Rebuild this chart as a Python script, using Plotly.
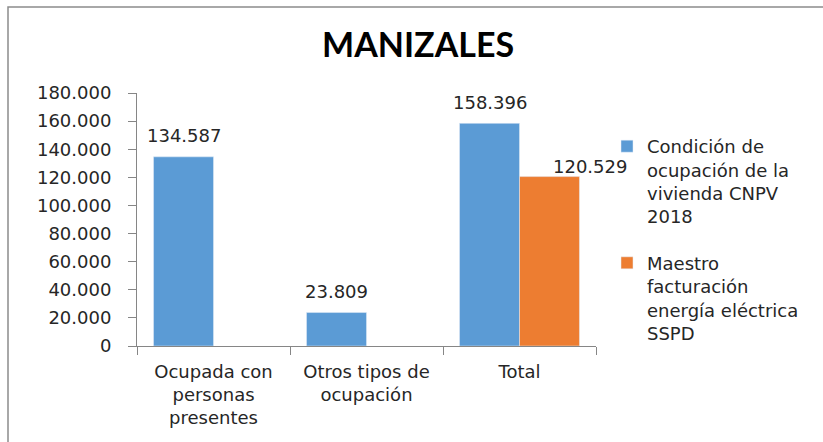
import plotly.graph_objects as go

categories = ["Ocupada con<br>personas<br>presentes", "Otros tipos de<br>ocupación", "Total"]
censo_vals = [134587, 23809, 158396]
ssp_vals = [None, None, 120529]
series_names = ["Condición de<br>ocupación de la<br>vivienda CNPV<br>2018",
                "Maestro<br>facturación<br>energía eléctrica<br>SSPD"]
title_text = "MANIZALES"
y_ticks = [0, 20000, 40000, 60000, 80000, 100000, 120000, 140000, 160000, 180000]

W, H = 823, 442
ML, MR, MT, MB = 137, 227, 93, 96
PW = W - ML - MR
PH = H - MT - MB
BARGAP = 0.216
bar_px = PW / 3 * (1 - BARGAP) / 2

BLUE = "#5B9BD5"
ORANGE = "#ED7D31"
TXT = "#262626"
FONT = "DejaVu Sans"


def fmt(v):
    return f"{v:,}".replace(",", ".")


fig = go.Figure()
fig.add_trace(go.Bar(x=categories, y=censo_vals, name=series_names[0],
                     marker=dict(color=BLUE), legendgroup="a"))
fig.add_trace(go.Bar(x=categories, y=ssp_vals, name=series_names[1],
                     marker=dict(color=ORANGE), legendgroup="b"))

annotations = []
for cat, v in zip(categories, censo_vals):
    if v is not None:
        annotations.append(dict(x=cat, y=v, text=fmt(v), showarrow=False,
                                xshift=-bar_px / 2, yshift=21,
                                font=dict(family=FONT, size=18, color=TXT)))
for cat, v in zip(categories, ssp_vals):
    if v is not None:
        annotations.append(dict(x=cat, y=v, text=fmt(v), showarrow=False,
                                xshift=bar_px / 2 + 41, yshift=10,
                                font=dict(family=FONT, size=18, color=TXT)))

# outer frame (left and top edges visible)
x0 = (8 - ML) / PW
x1 = (W + 20 - ML) / PW
y1 = (H - 7 - MB) / PH
y0 = (-20 - MB) / PH

fig.update_layout(
    width=W, height=H,
    margin=dict(l=ML, r=MR, t=MT, b=MB, autoexpand=False),
    paper_bgcolor="white", plot_bgcolor="white",
    separators=",.",
    barmode="group", bargap=BARGAP, bargroupgap=0,
    title=dict(text=f"<b>{title_text}</b>", x=0.508, xanchor="center",
               y=1 - 45 / H, yanchor="middle", yref="container", xref="container",
               font=dict(family="Lato", size=34, color="black")),
    font=dict(family=FONT, size=18, color=TXT),
    showlegend=True,
    legend=dict(xref="container", yref="container", x=607 / W, y=1 - 128 / H,
                xanchor="left", yanchor="top", valign="top",
                traceorder="grouped", tracegroupgap=20, maxheight=400,
                font=dict(family=FONT, size=18, color=TXT),
                bgcolor="rgba(0,0,0,0)"),
    xaxis=dict(range=[-0.5, len(categories) - 0.5], autorange=False,
               showline=True, linecolor="#868686", linewidth=1,
               ticks="outside", tickson="boundaries", ticklen=8, tickcolor="#868686",
               ticklabelstandoff=9, showgrid=False, fixedrange=True,
               tickfont=dict(family=FONT, size=18, color=TXT)),
    yaxis=dict(range=[0, 180000], autorange=False, tickvals=y_ticks, tickformat=",d",
               showline=True, linecolor="#868686", linewidth=1,
               ticks="outside", ticklen=8, tickcolor="#868686",
               ticklabelstandoff=13, showgrid=False, zeroline=False, fixedrange=True,
               tickfont=dict(family=FONT, size=18, color=TXT)),
    annotations=annotations,
    shapes=[dict(type="rect", xref="paper", yref="paper", x0=x0, x1=x1, y0=y0, y1=y1,
                 line=dict(color="#8c8c8c", width=1.5), layer="below")],
)

fig.write_html("out.html", config={"displayModeBar": False},
               post_script="document.body.style.margin='0';")
